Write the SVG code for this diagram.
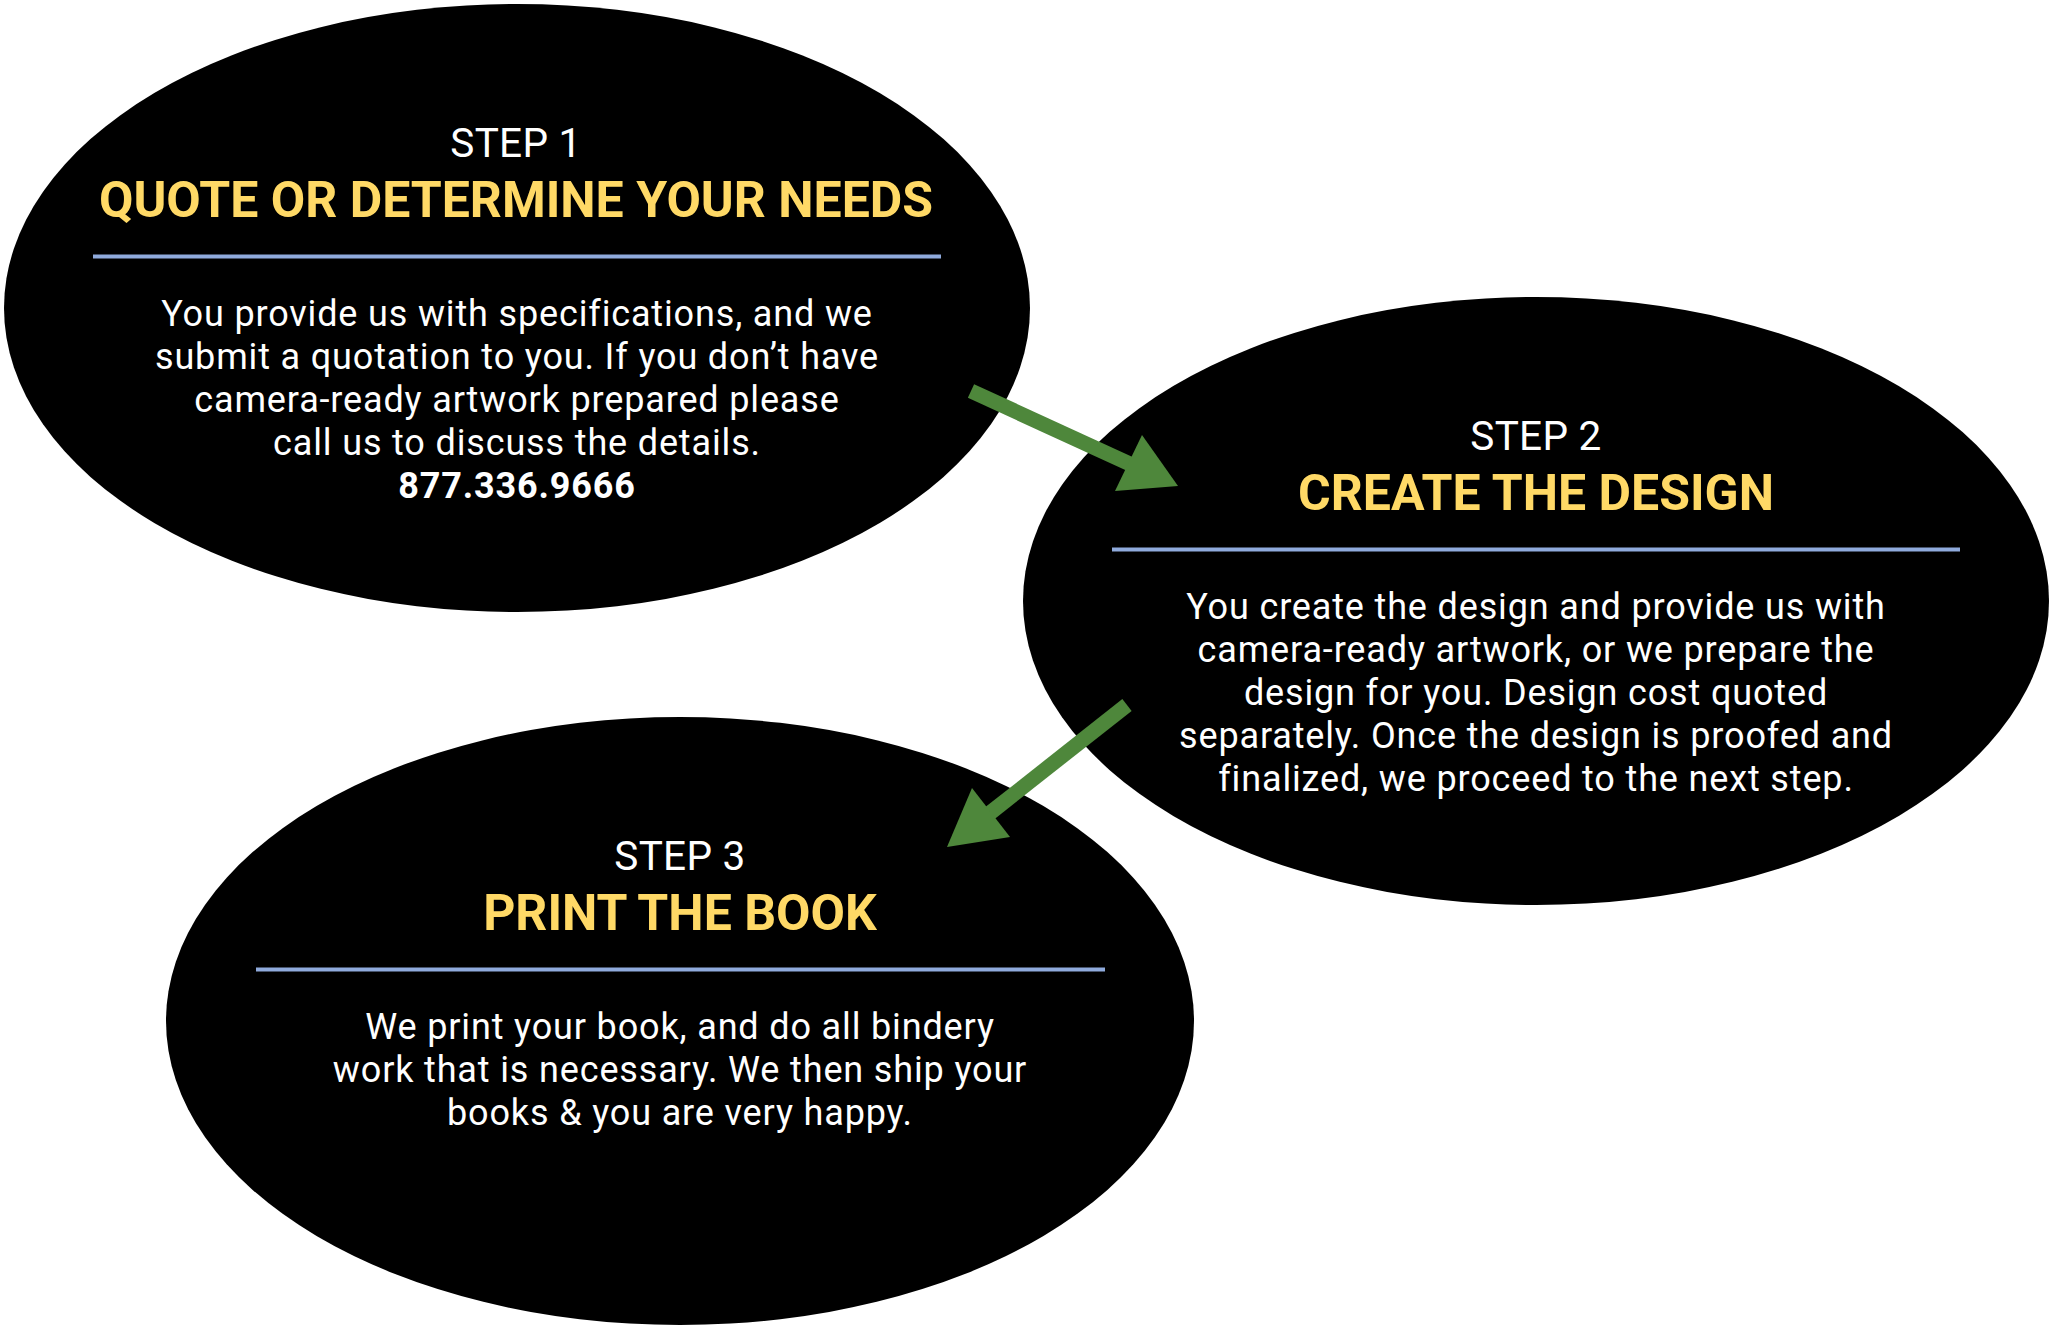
<svg xmlns="http://www.w3.org/2000/svg" width="2052" height="1328" viewBox="0 0 2052 1328">
<defs>
<style>
.bg{fill:#000}
.step{font-family:Roboto,"Liberation Sans",sans-serif;font-size:40.5px;fill:#fff;text-anchor:middle;letter-spacing:0.3px}
.title{font-family:Roboto,"Liberation Sans",sans-serif;font-size:50px;font-weight:bold;fill:#ffd966;text-anchor:middle}
.body{font-family:Roboto,"Liberation Sans",sans-serif;font-size:36px;fill:#fff;text-anchor:middle;letter-spacing:0.85px}
.phone{font-weight:bold}
.rule{stroke:#8faadc;stroke-width:4}
.arrow{stroke:#4e873b;stroke-width:15;fill:none}
.head{fill:#4e873b}
</style>
</defs>
<rect width="2052" height="1328" fill="#fff"/>
<g id="step1">
<ellipse class="bg" cx="517" cy="308" rx="513" ry="304"/>
<text class="step" x="516" y="157">STEP 1</text>
<text class="title" x="516" y="217">QUOTE OR DETERMINE YOUR NEEDS</text>
<line class="rule" x1="93" y1="256.5" x2="941" y2="256.5"/>
<text class="body" x="517" y="326">You provide us with specifications, and we</text>
<text class="body" x="517" y="369">submit a quotation to you. If you don’t have</text>
<text class="body" x="517" y="412">camera-ready artwork prepared please</text>
<text class="body" x="517" y="455">call us to discuss the details.</text>
<text class="body phone" x="517" y="498">877.336.9666</text>
</g>
<g id="step2">
<ellipse class="bg" cx="1536" cy="601" rx="513" ry="304"/>
<text class="step" x="1536" y="450">STEP 2</text>
<text class="title" x="1536" y="510">CREATE THE DESIGN</text>
<line class="rule" x1="1112" y1="549.5" x2="1960" y2="549.5"/>
<text class="body" x="1536" y="619">You create the design and provide us with</text>
<text class="body" x="1536" y="662">camera-ready artwork, or we prepare the</text>
<text class="body" x="1536" y="705">design for you. Design cost quoted</text>
<text class="body" x="1536" y="748">separately. Once the design is proofed and</text>
<text class="body" x="1536" y="791">finalized, we proceed to the next step.</text>
</g>
<g id="step3">
<ellipse class="bg" cx="680" cy="1021" rx="514" ry="304"/>
<text class="step" x="680" y="870">STEP 3</text>
<text class="title" x="680" y="930">PRINT THE BOOK</text>
<line class="rule" x1="256" y1="969.5" x2="1105" y2="969.5"/>
<text class="body" x="680" y="1039">We print your book, and do all bindery</text>
<text class="body" x="680" y="1082">work that is necessary. We then ship your</text>
<text class="body" x="680" y="1125">books &amp; you are very happy.</text>
</g>
<g id="connectors">
<line class="arrow" x1="971" y1="391" x2="1130" y2="464"/>
<polygon class="head" points="1178,486 1142,435 1115,491"/>
<line class="arrow" x1="1127" y1="705" x2="990" y2="813"/>
<polygon class="head" points="947,847 972,788 1010,837"/>
</g>
</svg>
